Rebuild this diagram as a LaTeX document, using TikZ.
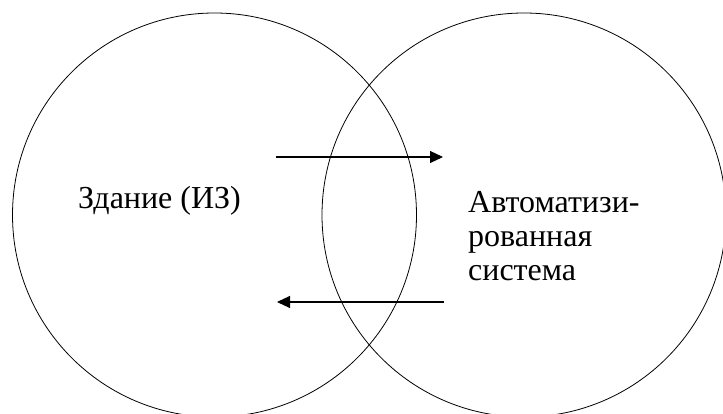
\documentclass[tikz,border=0pt]{standalone}
\usepackage{fontspec}
\setmainfont{Liberation Serif}
\usetikzlibrary{arrows.meta}
\begin{document}
\begin{tikzpicture}[x=1pt,y=-1pt,
  ring/.style={circle,draw=black,line width=0.8pt,minimum size=404pt,inner sep=0pt},
  lbl/.style={inner sep=0pt,font=\fontsize{32}{34}\selectfont},
  flow/.style={draw=black,line width=1.1pt,-{Triangle[length=13pt,width=12pt]}}]
\useasboundingbox (0,0) rectangle (723,414);
\node[ring] (left) at (214.5,215) {};
\node[ring] (right) at (524,215) {};
\node[lbl,anchor=base west] (bld) at (78,209) {Здание (ИЗ)};
\node[lbl,anchor=north west,align=left] (sys) at (468,191) {Автоматизи-\\рованная\\система};
\coordinate (t1) at (276,157);
\coordinate (t2) at (443,157);
\coordinate (b1) at (444,302);
\coordinate (b2) at (277,302);
\draw[flow] (t1) -- (t2);
\draw[flow] (b1) -- (b2);
\end{tikzpicture}
\end{document}
